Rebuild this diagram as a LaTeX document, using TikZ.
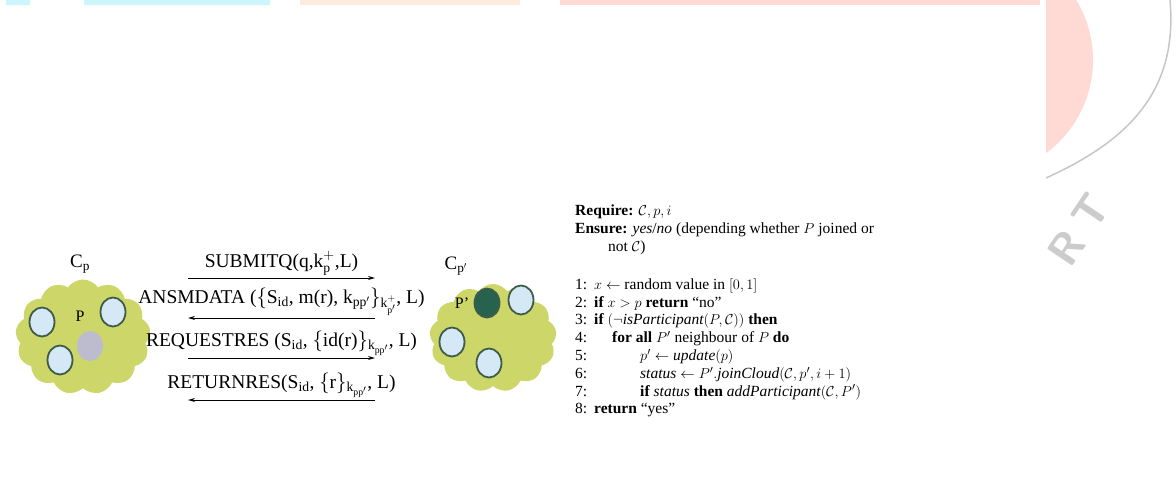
\documentclass[tikz,border=0pt]{standalone}
\usepackage{amsmath,amssymb}
\usepackage{fontspec}
\setmainfont{Liberation Serif}
\usepackage{tikz}
\usetikzlibrary{
  arrows.meta,
  positioning,
  shapes.symbols,
  shapes.geometric
}
\definecolor{cloudgreen}{RGB}{205,214,104}
\definecolor{peerblue}{RGB}{212,232,246}
\definecolor{peerrim}{RGB}{62,92,72}
\definecolor{peerdark}{RGB}{38,98,78}
\definecolor{peergray}{RGB}{188,188,206}
\definecolor{wmpink}{RGB}{255,218,212}
\definecolor{wmcyan}{RGB}{205,245,252}
\definecolor{wmpeach}{RGB}{253,236,222}

\newcommand{\algline}[2]{\makebox[19pt][l]{#1:}#2}

\begin{document}
\begin{tikzpicture}[x=1pt, y=-1pt, >=Stealth,
  cloudC/.style={cloud, cloud puffs=13, cloud puff arc=110, fill=cloudgreen, draw=none},
  peer/.style={ellipse, minimum width=25pt, minimum height=29pt, fill=peerblue, draw=peerrim, line width=1.8pt, inner sep=0pt},
  msg/.style={line width=1pt, -{Stealth[length=7pt,width=4pt]}},
  lbl/.style={above=1pt, inner sep=1pt, font=\fontsize{19.5}{21}\selectfont},
  tag/.style={inner sep=0pt, font=\fontsize{19}{21}\selectfont},
  wmark/.style={rotate=56, inner sep=0pt, text=gray!40, font=\sffamily\bfseries\fontsize{44}{44}\selectfont}]
\useasboundingbox (0,0) rectangle (1176,482);
% watermark left over from the page
\fill[wmcyan] (6,0) rectangle (30,5) (84,0) rectangle (270,5);
\fill[wmpeach] (300,0) rectangle (520,5);
\fill[wmpink] (560,0) rectangle (1040,5);
\begin{scope}
  \clip (1046,0) rectangle (1176,482);
  \fill[wmpink] (977,60) circle (116);
  \draw[gray!45, line width=1.5pt] (1046,178) .. controls (1130,140) and (1178,90) .. (1170,0);
  \node[wmark] (wmR) at (1066,248) {R};
  \node[wmark] (wmT) at (1091,212) {T};
\end{scope}

% the two clouds
\node[cloudC, minimum width=135pt, minimum height=115pt] (cloudP) at (83,337) {};
\node[cloudC, minimum width=127pt, minimum height=108pt] (cloudQ) at (493,338) {};
\node[tag] (labP) at (80,264) {C$_{\mathrm{p}}$};
\node[tag] (labQ) at (456,266) {C$_{\mathrm{p'}}$};

% peers of C_p
\node[font=\fontsize{16}{16}\selectfont] (P) at (80,316) {P};
\node[peer] (a1) at (42,322) {};
\node[peer] (a2) at (113,312) {};
\node[peer] (a3) at (60,360) {};
\node[ellipse, fill=peergray, minimum width=26pt, minimum height=30pt] (a0) at (90,346) {};

% peers of C_p'
\node[font=\fontsize{16}{16}\selectfont] (Q) at (462,303) {P'};
\node[peer, fill=peerdark] (b0) at (487,303) {};
\node[peer] (b1) at (521,300) {};
\node[peer] (b2) at (452,342) {};
\node[peer] (b3) at (489,363) {};

% messages
\foreach \i/\y in {1/278, 2/318, 3/358, 4/400} {
  \coordinate (w\i) at (188,\y);
  \coordinate (e\i) at (375,\y);
}
\draw[msg] (w1) -- node[lbl] {SUBMITQ(q,k$^{+}_{\mathrm{p}}$,L)} (e1);
\draw[msg] (e2) -- node[lbl] {ANSMDATA ($\{$S$_{\mathrm{id}}$, m(r), k$_{\mathrm{pp'}}\}_{\mathrm{k}^{+}_{\mathrm{p'}}}$, L)} (w2);
\draw[msg] (w3) -- node[lbl] {REQUESTRES (S$_{\mathrm{id}}$, $\{$id(r)$\}_{\mathrm{k}_{\mathrm{pp'}}}$, L)} (e3);
\draw[msg] (e4) -- node[lbl] {RETURNRES(S$_{\mathrm{id}}$, $\{$r$\}_{\mathrm{k}_{\mathrm{pp'}}}$, L)} (w4);

% the join algorithm
\node[anchor=north west, align=left, inner sep=0pt, font=\fontsize{15.5}{17.8}\selectfont] (algo) at (575,205) {%
\textbf{Require:} $\mathcal{C}, p, i$\\
\textbf{Ensure:} \textit{yes}/\textit{no} (depending whether $P$ joined or\\
\hspace{33pt}not $\mathcal{C}$)\\[20pt]
\algline{1}{$x \leftarrow$ random value in $[0,1]$}\\
\algline{2}{\textbf{if} $x > p$ \textbf{return} ``no''}\\
\algline{3}{\textbf{if} $(\neg \mathit{isParticipant}(P,\mathcal{C}))$ \textbf{then}}\\
\algline{4}{\hspace{18pt}\textbf{for all} $P'$ neighbour of $P$ \textbf{do}}\\
\algline{5}{\hspace{46pt}$p' \leftarrow \mathit{update}(p)$}\\
\algline{6}{\hspace{46pt}$\mathit{status} \leftarrow P'.\mathit{joinCloud}(\mathcal{C},p',i+1)$}\\
\algline{7}{\hspace{46pt}\textbf{if} $\mathit{status}$ \textbf{then} $\mathit{addParticipant}(\mathcal{C},P')$}\\
\algline{8}{\textbf{return} ``yes''}};
\end{tikzpicture}
\end{document}
